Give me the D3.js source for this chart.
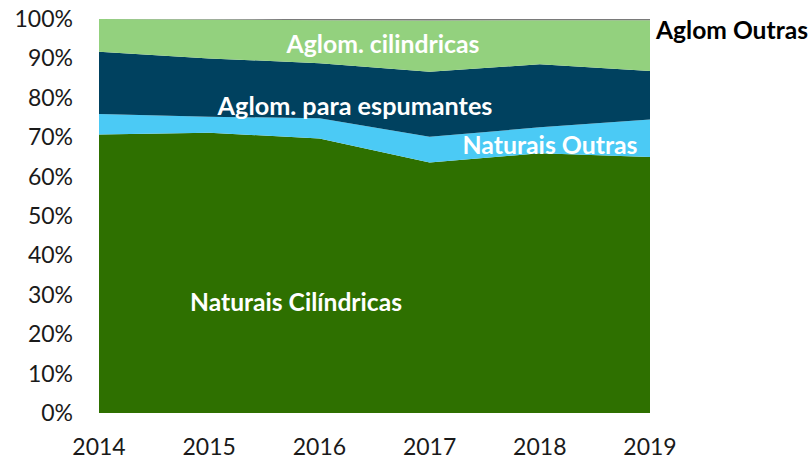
<!DOCTYPE html>
<html>
<head>
<meta charset="utf-8">
<script src="https://cdn.jsdelivr.net/npm/d3@7"></script>
<style>
  body { margin: 0; background: #fff; }
  text { font-family: Lato, "Open Sans", sans-serif; }
</style>
</head>
<body>
<script>
const width = 811, height = 462;

// shares in % per year
const years = [2014, 2015, 2016, 2017, 2018, 2019];
const naturaisCilindricas = [70.7, 71.1, 69.7, 63.6, 65.9, 65.0];
const naturaisOutras      = [5.2, 4.1, 5.1, 6.5, 6.6, 9.5];
const aglomEspumantes     = [15.8, 14.8, 14.0, 16.5, 16.0, 12.3];
const aglomCilindricas    = [8.3, 9.9, 10.9, 13.0, 11.2, 12.9];
const aglomOutras         = [0.0, 0.1, 0.3, 0.4, 0.3, 0.3];

const seriesNames = ["Naturais Cilíndricas", "Naturais Outras", "Aglom. para espumantes", "Aglom. cilindricas", "Aglom Outras"];
const seriesValues = [naturaisCilindricas, naturaisOutras, aglomEspumantes, aglomCilindricas, aglomOutras];
const colors = ["#2e7000", "#4bcaf5", "#00415f", "#93d17e", "#7a7a7a"];
const yTicks = [0, 10, 20, 30, 40, 50, 60, 70, 80, 90, 100];

const rows = years.map((y, i) => {
    const r = { year: y };
    seriesNames.forEach((n, k) => r[n] = seriesValues[k][i]);
    return r;
});

const svg = d3.select("body").append("svg")
    .attr("width", width)
    .attr("height", height);

const x = d3.scaleLinear().domain([2014, 2019]).range([99, 650]);
const y = d3.scaleLinear().domain([0, 100]).range([413, 19]);

const stack = d3.stack().keys(seriesNames).offset(d3.stackOffsetExpand);
const layers = stack(rows);

const area = d3.area()
    .x(d => x(d.data.year))
    .y0(d => y(d[0] * 100))
    .y1(d => y(d[1] * 100));

svg.selectAll("path.layer")
    .data(layers)
    .enter().append("path")
    .attr("class", "layer")
    .attr("d", area)
    .attr("fill", (d, i) => colors[i]);

// y axis labels
svg.selectAll("text.ytick")
    .data(yTicks)
    .enter().append("text")
    .attr("class", "ytick")
    .attr("x", 73)
    .attr("y", d => y(d))
    .attr("dy", "0.35em")
    .attr("text-anchor", "end")
    .attr("font-size", 23)
    .attr("fill", "#1a1a1a")
    .text(d => d + "%");

// x axis labels
svg.selectAll("text.xtick")
    .data(years)
    .enter().append("text")
    .attr("class", "xtick")
    .attr("x", d => x(d))
    .attr("y", 447)
    .attr("dy", "0.35em")
    .attr("text-anchor", "middle")
    .attr("font-size", 23)
    .attr("fill", "#1a1a1a")
    .text(d => d);

// series labels
const labels = [
    { text: "Aglom. cilindricas", cx: 383, cy: 44, w: 193, fill: "#fff" },
    { text: "Aglom. para espumantes", cx: 355, cy: 106, w: 275, fill: "#fff" },
    { text: "Naturais Outras", cx: 550, cy: 145, w: 175, fill: "#fff" },
    { text: "Naturais Cilíndricas", cx: 296, cy: 302, w: 212, fill: "#fff" },
    { text: "Aglom Outras", cx: 732, cy: 30, w: 152, fill: "#000" }
];

labels.forEach(l => {
    const t = svg.append("text")
        .attr("x", l.cx)
        .attr("y", l.cy)
        .attr("dy", "0.35em")
        .attr("text-anchor", "middle")
        .attr("font-weight", "bold")
        .attr("font-size", 20)
        .attr("fill", l.fill)
        .text(l.text);
    // scale font so the label takes the same width as in the picture
    const len = t.node().getComputedTextLength();
    t.attr("font-size", 20 * l.w / len);
});
</script>
</body>
</html>
